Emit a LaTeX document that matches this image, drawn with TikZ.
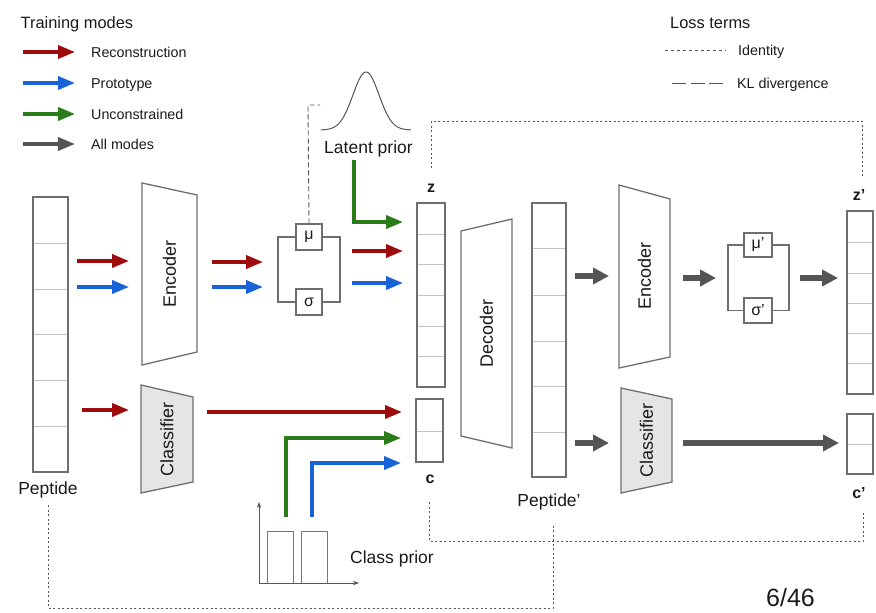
\documentclass[tikz,border=0pt]{standalone}
\usepackage{fontspec}
\setmainfont{Liberation Sans}
\usetikzlibrary{arrows.meta}
\definecolor{cred}{HTML}{9E0B0B}
\definecolor{cblue}{HTML}{1A62D8}
\definecolor{cgreen}{HTML}{2A7B1A}
\definecolor{cgray}{HTML}{555555}
\definecolor{cedge}{HTML}{6E6E6E}
\definecolor{cdiv}{HTML}{C4C4C4}
\definecolor{ctext}{HTML}{1A1A1A}
\begin{document}
\begin{tikzpicture}[x=1pt,y=-1pt,
  every node/.style={text=ctext,inner sep=0pt},
  marr/.style={line width=3.6pt,-{Triangle[length=17pt,width=13pt]}},
  garr/.style={cgray,line width=5.5pt,-{Triangle[length=16pt,width=16pt]}},
  trap/.style={draw=cedge,line width=1.3pt,fill=white},
  ctrap/.style={draw=cedge,line width=1.3pt,fill=black!10},
  col/.style={draw=cedge,line width=1.1pt},
  cell/.style={draw=cdiv,line width=0.8pt},
  mbox/.style={draw=cedge,line width=1.1pt,fill=white},
  ident/.style={cgray,line width=0.9pt,dash pattern=on 2pt off 2.5pt},
  kl/.style={cgray,line width=0.9pt,dash pattern=on 5pt off 3pt},
  lab/.style={font=\fontsize{17.5}{20}\selectfont},
  rlab/.style={font=\fontsize{18}{20}\selectfont,rotate=90},
  leg/.style={font=\fontsize{14.3}{16}\selectfont,anchor=base west},
  legt/.style={font=\fontsize{16.4}{18}\selectfont,anchor=base west},
  bl/.style={font=\fontsize{16}{18}\selectfont\bfseries,anchor=base}
]
\useasboundingbox (0,0) rectangle (876,613);
% ---------- legend ----------
\node[legt] (tm) at (20.5,28) {Training modes};
\coordinate (l1a) at (23,52);  \coordinate (l1b) at (75,52);
\coordinate (l2a) at (23,83);  \coordinate (l2b) at (75,83);
\coordinate (l3a) at (23,114); \coordinate (l3b) at (75,114);
\coordinate (l4a) at (23,144); \coordinate (l4b) at (75,144);
\draw[marr,cred] (l1a) -- (l1b);
\draw[marr,cblue] (l2a) -- (l2b);
\draw[marr,cgreen] (l3a) -- (l3b);
\draw[marr,cgray] (l4a) -- (l4b);
\node[leg] (lrec) at (91,57) {Reconstruction};
\node[leg] (lpro) at (91,88) {Prototype};
\node[leg] (lunc) at (91,119) {Unconstrained};
\node[leg] (lall) at (91,149) {All modes};
\node[legt] (lt) at (670,28) {Loss terms};
\coordinate (i1) at (665,50); \coordinate (i2) at (726,50);
\coordinate (k1) at (672,83); \coordinate (k2) at (723,83);
\draw[cgray,line width=0.9pt,dash pattern=on 2.5pt off 3.5pt] (i1) -- (i2);
\draw[cgray,line width=0.9pt,dash pattern=on 14pt off 4.5pt] (k1) -- (k2);
\node[leg] (lid) at (738,55) {Identity};
\node[leg] (lkl) at (737,88) {KL divergence};
% ---------- columns ----------
% Peptide
\foreach \y in {243,289,334,380,426} \draw[cell] (33,\y) -- (68,\y);
\draw[col] (33,197) rectangle (68,472);
\node[lab,anchor=base] (pep) at (48,494) {Peptide};
% z
\foreach \y in {234,264,295,326,356} \draw[cell] (417,\y) -- (445,\y);
\draw[col] (417,203) rectangle (445,387);
\node[bl] (zl) at (431,192) {z};
% c
\draw[cell] (416,431) -- (443,431);
\draw[col] (416,399) rectangle (443,462);
\node[bl] (cl) at (430,483) {c};
% Peptide'
\foreach \y in {248,295,341,386,432} \draw[cell] (532,\y) -- (566,\y);
\draw[col] (532,203) rectangle (566,477);
\node[lab,anchor=base] (pep2) at (549,506) {Peptide'};
% z'
\foreach \y in {242,273,303,333,363} \draw[cell] (847,\y) -- (873,\y);
\draw[col] (847,211) rectangle (873,394);
\node[bl] (zpl) at (859,200) {z'};
% c'
\draw[cell] (847,444) -- (873,444);
\draw[col] (847,414) rectangle (873,474);
\node[bl] (cpl) at (859,498) {c'};
% ---------- trapezoids ----------
\draw[trap] (142,183) -- (197,195) -- (197,352) -- (142,365) -- cycle;
\node[rlab] (enc1) at (169.5,274) {Encoder};
\draw[ctrap] (141,385) -- (193,397) -- (193,482) -- (141,493) -- cycle;
\node[rlab] (cls1) at (167,439) {Classifier};
\draw[trap] (461,231) -- (512,219) -- (512,448) -- (461,436) -- cycle;
\node[rlab] (dec) at (486.5,333.5) {Decoder};
\draw[trap] (619,185) -- (670,199) -- (670,357) -- (619,368) -- cycle;
\node[rlab] (enc2) at (644.5,276) {Encoder};
\draw[ctrap] (621,388) -- (672,399) -- (672,482) -- (621,493) -- cycle;
\node[rlab] (cls2) at (646.5,440) {Classifier};
% ---------- mu / sigma ----------
\draw[col] (278,237) rectangle (340,302);
\node[mbox,minimum width=26pt,minimum height=26pt,font=\fontsize{16}{18}\selectfont] (mu) at (309,237) {μ};
\node[mbox,minimum width=26pt,minimum height=26pt,font=\fontsize{16}{18}\selectfont] (sig) at (309,302) {σ};
\draw[col] (728,245) rectangle (789,310.5);
\node[mbox,minimum width=28pt,minimum height=24pt,font=\fontsize{16}{18}\selectfont] (mu2) at (758,245) {μ'};
\node[mbox,minimum width=28pt,minimum height=25pt,font=\fontsize{16}{18}\selectfont] (sig2) at (758,310.5) {σ'};
% ---------- latent prior ----------
\draw[cgray,line width=1pt] plot[domain=-45:45,samples=90,smooth] ({366+\x},{130-58*exp(-((\x/13)^2)/2)});
\node[lab,anchor=base] (lp) at (368.5,153) {Latent prior};
\coordinate (klend) at (320,105);
\draw[kl] (mu.north) -- (308,105) -- (klend);
% ---------- class prior ----------
\draw[cgray!80,line width=0.9pt] (267,583) rectangle (293,531);
\draw[cgray!80,line width=0.9pt] (301,583) rectangle (327,531);
\draw[cgray,line width=0.9pt,-{Stealth[length=6pt,width=4.5pt]}] (259,584) -- (259,502);
\draw[cgray,line width=0.9pt,-{Stealth[length=6pt,width=4.5pt]}] (258.5,583) -- (359,583);
\node[lab,anchor=base] (cp) at (392,563) {Class prior};
% ---------- colored arrows ----------
\coordinate (a1) at (77,261);  \coordinate (b1) at (129,261);
\coordinate (a2) at (77,287);  \coordinate (b2) at (129,287);
\coordinate (a3) at (82,410);  \coordinate (b3) at (129,410);
\draw[marr,cred] (a1) -- (b1);
\draw[marr,cblue] (a2) -- (b2);
\draw[marr,cred] (a3) -- (b3);
\coordinate (a4) at (212,262); \coordinate (b4) at (263,262);
\coordinate (a5) at (212,287); \coordinate (b5) at (263,287);
\draw[marr,cred] (a4) -- (b4);
\draw[marr,cblue] (a5) -- (b5);
\coordinate (g1) at (354,160); \coordinate (g2) at (403,222);
\draw[marr,cgreen] (g1) |- (g2);
\coordinate (r1) at (352,251); \coordinate (r2) at (403,251);
\coordinate (u1) at (352,283); \coordinate (u2) at (403,283);
\draw[marr,cred] (r1) -- (r2);
\draw[marr,cblue] (u1) -- (u2);
\coordinate (rc1) at (207,412); \coordinate (rc2) at (402,412);
\draw[marr,cred] (rc1) -- (rc2);
\coordinate (gc1) at (286,517); \coordinate (gc2) at (401,438);
\coordinate (uc1) at (312,517); \coordinate (uc2) at (401,463);
\draw[marr,cgreen] (gc1) |- (gc2);
\draw[marr,cblue] (uc1) |- (uc2);
% ---------- gray arrows ----------
\coordinate (p1) at (575,276); \coordinate (q1) at (609,276);
\coordinate (p2) at (575,443); \coordinate (q2) at (609,443);
\coordinate (p3) at (683,278); \coordinate (q3) at (716,278);
\coordinate (p4) at (800,278); \coordinate (q4) at (838,278);
\coordinate (p5) at (683,443); \coordinate (q5) at (839,443);
\draw[garr] (p1) -- (q1);
\draw[garr] (p2) -- (q2);
\draw[garr] (p3) -- (q3);
\draw[garr] (p4) -- (q4);
\draw[garr] (p5) -- (q5);
% ---------- identity loss lines ----------
\coordinate (t1) at (431,168); \coordinate (t2) at (862,178);
\draw[ident] (t1) -- (431,121) -| (t2);
\coordinate (c1) at (429,502); \coordinate (c2) at (863,513);
\draw[ident] (c1) -- (429,541) -| (c2);
\coordinate (e1) at (48,505); \coordinate (e2) at (553,523);
\draw[ident] (e1) -- (48,608) -| (e2);
% ---------- page number ----------
\node[anchor=base,font=\fontsize{25}{30}\selectfont] (pg) at (790.5,606) {6/46};
\end{tikzpicture}
\end{document}
